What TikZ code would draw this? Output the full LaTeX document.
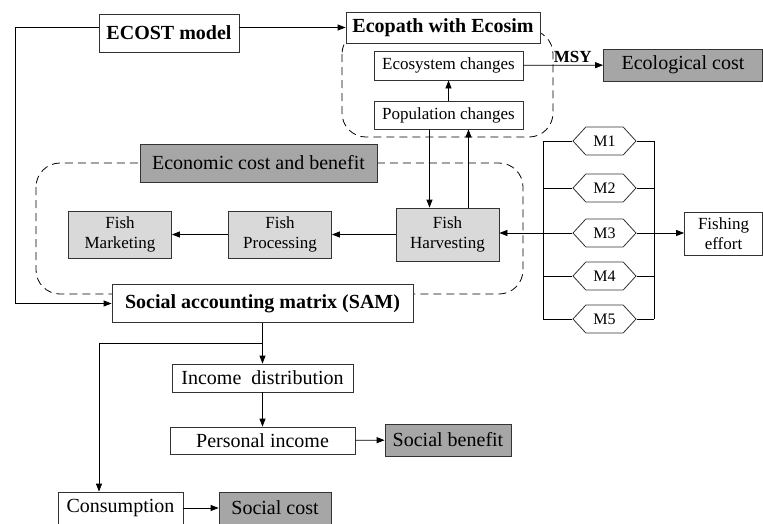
\documentclass[tikz,border=0pt]{standalone}
\usepackage{fontspec}
\setmainfont{Liberation Serif}
\usetikzlibrary{arrows.meta,shapes.symbols}

\tikzset{
  box/.style={draw=black!80,fill=white,inner sep=0pt,align=center,line width=0.8pt},
  darkbox/.style={box,fill=black!35},
  lightbox/.style={box,fill=black!15},
  big/.style={font=\fontsize{20}{22}\selectfont},
  bigbold/.style={font=\bfseries\fontsize{20}{22}\selectfont},
  mid/.style={font=\fontsize{17}{20}\selectfont},
  hexa/.style={draw=black!80,fill=white,shape=signal,signal to=east and west,
    signal pointer angle=95,inner sep=0pt,minimum width=63pt,minimum height=28pt,
    font=\fontsize{16}{18}\selectfont,line width=0.8pt},
  flow/.style={line width=0.8pt,-{Triangle[length=8pt,width=6pt]}},
  wire/.style={line width=0.8pt},
  groupline/.style={line width=0.8pt,dash pattern=on 8pt off 5pt,rounded corners=24pt},
}

\begin{document}
\begin{tikzpicture}[x={1pt},y={-1pt}]
\useasboundingbox (0,0) rectangle (763,523);
\draw[groupline] (342,30) rectangle (553,137);
\draw[groupline] (36,163) rectangle (523,294);

\node[box,bigbold,minimum width=140pt,minimum height=38pt] (ecost) at (169,33) {ECOST model};
\node[box,bigbold,minimum width=194pt,minimum height=31pt] (ewe) at (443,27.5) {Ecopath with Ecosim};
\node[box,mid,minimum width=149pt,minimum height=29pt] (ecochg) at (448.5,65.5) {Ecosystem changes};
\node[box,mid,minimum width=149pt,minimum height=28pt] (popchg) at (448.5,115) {Population changes};
\node[darkbox,big,minimum width=159pt,minimum height=32pt] (ecolcost) at (683,65) {Ecological cost};
\node[darkbox,big,minimum width=237pt,minimum height=38pt] (econ) at (258.5,163) {Economic cost and benefit};
\node[lightbox,mid,minimum width=103pt,minimum height=47pt] (market) at (120,234.5) {Fish\\Marketing};
\node[lightbox,mid,minimum width=103pt,minimum height=47pt] (process) at (280,234.5) {Fish\\Processing};
\node[lightbox,mid,minimum width=103pt,minimum height=53pt] (harvest) at (447.5,234.5) {Fish\\Harvesting};
\node[box,bigbold,minimum width=301pt,minimum height=38pt] (sam) at (262.5,303.5) {Social accounting matrix (SAM)};
\node[box,mid,minimum width=78pt,minimum height=43pt] (effort) at (723.5,233.5) {Fishing\\effort};
\node[box,big,minimum width=181pt,minimum height=28pt] (incdist) at (262.5,378) {Income\ \ distribution};
\node[box,big,minimum width=185pt,minimum height=27pt] (persinc) at (262.5,440.5) {Personal income};
\node[darkbox,big,minimum width=126pt,minimum height=32pt] (socben) at (448,440) {Social benefit};
\node[box,big,minimum width=125pt,minimum height=32pt] (consum) at (120.5,508) {Consumption};
\node[darkbox,big,minimum width=112pt,minimum height=32pt] (soccost) at (275,508) {Social cost};

\node[hexa] (m1) at (604.5,141) {M1};
\node[hexa] (m2) at (604.5,188) {M2};
\node[hexa] (m3) at (604.5,233) {M3};
\node[hexa] (m4) at (604.5,276) {M4};
\node[hexa] (m5) at (604.5,319) {M5};
\coordinate (railL) at (543,0);
\coordinate (railR) at (654,0);
\coordinate (split) at (262.5,343);

\draw[flow] (ecost.east |- ewe.west) -- (ewe.west);
\draw[flow] (ecost.west |- ewe.west) -- ++(-83,0) |- (sam.west);
\draw[flow] (popchg) -- (ecochg);
\draw[flow] (ecochg) -- node[pos=0.62,above,inner sep=2pt,font=\bfseries\fontsize{17}{19}\selectfont] {MSY} (ecolcost);
\draw[flow] ([xshift=-19]popchg.south) -- ([xshift=-19]popchg.south |- harvest.north);
\draw[flow] ([xshift=21]harvest.north) -- ([xshift=21]harvest.north |- popchg.south);
\draw[flow] (harvest) -- (process);
\draw[flow] (process) -- (market);

\draw[wire] (m1.west -| railL) -- (m5.west -| railL);
\draw[wire] (m1.east -| railR) -- (m5.east -| railR);
\foreach \i in {1,2,4,5} {
\draw[wire] (m\i.west) -- (m\i.west -| railL);
\draw[wire] (m\i.east) -- (m\i.east -| railR);
}
\draw[flow] (m3.west) -- (m3.west -| harvest.east);
\draw[flow] (m3.east) -- (m3.east -| effort.west);

\draw[flow] (sam) -- (incdist);
\draw[flow] (split) -| ([xshift=-21.5]consum.north);
\draw[flow] (incdist) -- (persinc);
\draw[flow] (persinc) -- (socben);
\draw[flow] (consum) -- (soccost);
\end{tikzpicture}
\end{document}
